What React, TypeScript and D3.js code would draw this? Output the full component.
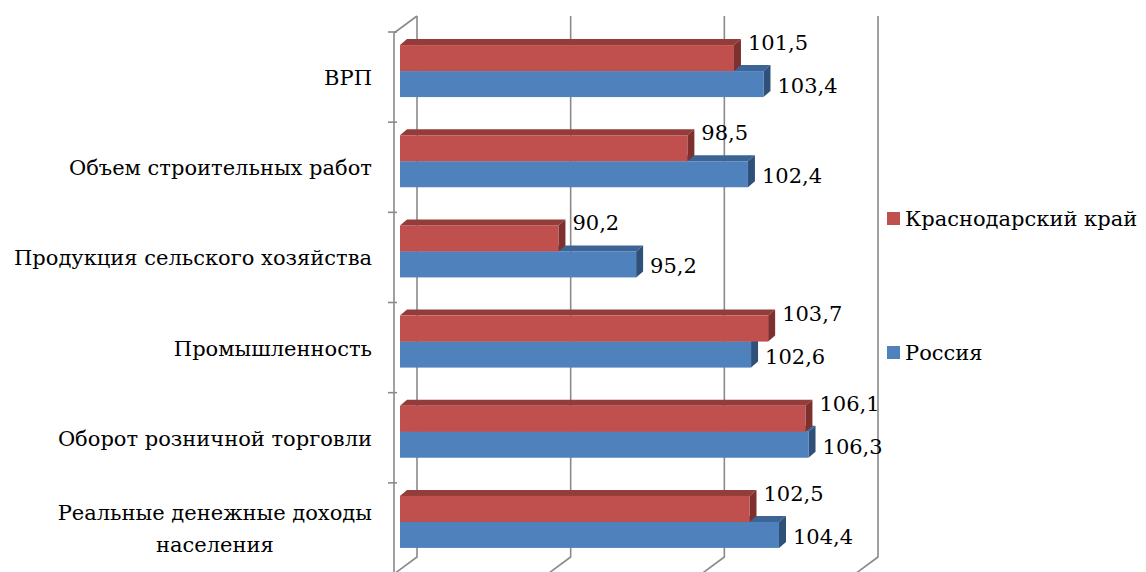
import { useEffect, useRef } from "react";
import * as d3 from "d3";

const categories = [
  "ВРП",
  "Объем строительных работ",
  "Продукция сельского хозяйства",
  "Промышленность",
  "Оборот розничной торговли",
  "Реальные денежные доходы населения",
];
const seriesNames = ["Краснодарский край", "Россия"];
const krasnodar = [101.5, 98.5, 90.2, 103.7, 106.1, 102.5];
const russia = [103.4, 102.4, 95.2, 102.6, 106.3, 104.4];
const gridTicks = [80, 90, 100, 110];

const W = 1146;
const H = 572;
const FONT = "DejaVu Serif";
const FS = 21;

export default function App() {
  const svgRef = useRef<SVGSVGElement>(null);

  useEffect(() => {
    const svg = svgRef.current;
    if (!svg) return;
    const root = d3.select(svg);
    root.selectAll("*").remove();

    const txt = (g: d3.Selection<SVGGElement, unknown, null, undefined>) =>
      g.append("text").attr("font-family", FONT).attr("font-size", FS).attr("fill", "#000");

    // walls: back plane is shifted right/up from the front plane
    const depthX = 23;
    const depthY = 17;
    const wallTop = 16;
    const wallBottom = 557;

    const y = d3.scaleBand<string>().domain(categories).range([26, 567]);
    const x = d3.scaleLinear().domain([80, 110]).range([400, 866]);
    const xBack = d3.scaleLinear().domain([80, 110]).range([417, 878]);

    const grid = root.append("g").attr("fill", "none").attr("stroke", "#8a8a8a").attr("stroke-width", 1.6);

    gridTicks.forEach((t) => {
      const xb = xBack(t);
      grid
        .append("path")
        .attr("d", `M${xb},${wallTop}V${wallBottom}L${xb - depthX},${wallBottom + depthY}`);
    });

    // left wall front edge (category axis) and its top edge
    const frontX = xBack(80) - depthX;
    grid
      .append("path")
      .attr("d", `M${xBack(80)},${wallTop}L${frontX},${wallTop + depthY}V${H + 10}`);

    // category ticks on the front edge
    categories.forEach((c, i) => {
      const yy = (y(c) ?? 0) + 6;
      grid.append("line").attr("x1", frontX - 6).attr("x2", frontX + 3).attr("y1", yy).attr("y2", yy);
      if (i === categories.length - 1) {
        const yb = yy + y.bandwidth();
        grid.append("line").attr("x1", frontX - 6).attr("x2", frontX + 3).attr("y1", yb).attr("y2", yb);
      }
    });

    // bars
    const barH = 26;
    const bdx = 7;
    const bdy = 6;
    const colors = [
      { front: "#c0504d", top: "#943c3a", side: "#7d302e" },
      { front: "#4f81bd", top: "#3c6596", side: "#2f5079" },
    ];
    const fmt = (v: number) => d3.format(".1f")(v).replace(".", ",");

    const bars = root.append("g");
    const labels = root.append("g");

    categories.forEach((c, i) => {
      const center = (y(c) ?? 0) + y.bandwidth() / 2;
      const x0 = x(80);
      // draw Russia first (lower bar), then Krasnodar above it
      [1, 0].forEach((s) => {
        const v = s === 0 ? krasnodar[i] : russia[i];
        const top = s === 0 ? center - barH : center;
        const x1 = x(v);
        const col = colors[s];
        bars
          .append("polygon")
          .attr("points", `${x0},${top} ${x0 + bdx},${top - bdy} ${x1 + bdx},${top - bdy} ${x1},${top}`)
          .attr("fill", col.top);
        bars
          .append("polygon")
          .attr("points", `${x1},${top} ${x1 + bdx},${top - bdy} ${x1 + bdx},${top + barH - bdy} ${x1},${top + barH}`)
          .attr("fill", col.side);
        bars
          .append("rect")
          .attr("x", x0)
          .attr("y", top)
          .attr("width", x1 - x0)
          .attr("height", barH)
          .attr("fill", col.front);
      });

      txt(labels)
        .attr("x", x(krasnodar[i]) + 14)
        .attr("y", center - barH + 5)
        .text(fmt(krasnodar[i]));
      txt(labels)
        .attr("x", x(russia[i]) + 14)
        .attr("y", center + barH - 4)
        .text(fmt(russia[i]));
    });

    // category labels, wrapped and right-aligned as a block
    const catG = root.append("g");
    const labelRight = 372;
    const maxW = 380;
    categories.forEach((c) => {
      const center = (y(c) ?? 0) + y.bandwidth() / 2;
      const t = txt(catG).attr("text-anchor", "middle");
      const words = c.split(" ");
      const lines: string[] = [];
      let cur = "";
      const probe = txt(catG);
      words.forEach((w) => {
        const test = cur ? cur + " " + w : w;
        probe.text(test);
        if ((probe.node() as SVGTextElement).getComputedTextLength() > maxW && cur) {
          lines.push(cur);
          cur = w;
        } else cur = test;
      });
      lines.push(cur);
      let blockW = 0;
      lines.forEach((l) => {
        probe.text(l);
        blockW = Math.max(blockW, (probe.node() as SVGTextElement).getComputedTextLength());
      });
      probe.remove();
      const cx = labelRight - blockW / 2;
      const lh = 32;
      const base = center + 14 - ((lines.length - 1) * lh) / 2;
      lines.forEach((l, k) => {
        t.append("tspan").attr("x", cx).attr("y", base + k * lh).text(l);
      });
    });

    // legend
    const legend = root.append("g");
    const legendY = [212, 346];
    seriesNames.forEach((n, i) => {
      legend
        .append("rect")
        .attr("x", 887)
        .attr("y", legendY[i])
        .attr("width", 13)
        .attr("height", 13)
        .attr("fill", colors[i].front);
      txt(legend)
        .attr("x", 905)
        .attr("y", legendY[i] + 14)
        .text(n);
    });
  }, []);

  return (
    <svg
      ref={svgRef}
      width={W}
      height={H}
      style={{ position: "absolute", left: 0, top: 0, background: "#fff" }}
    />
  );
}
